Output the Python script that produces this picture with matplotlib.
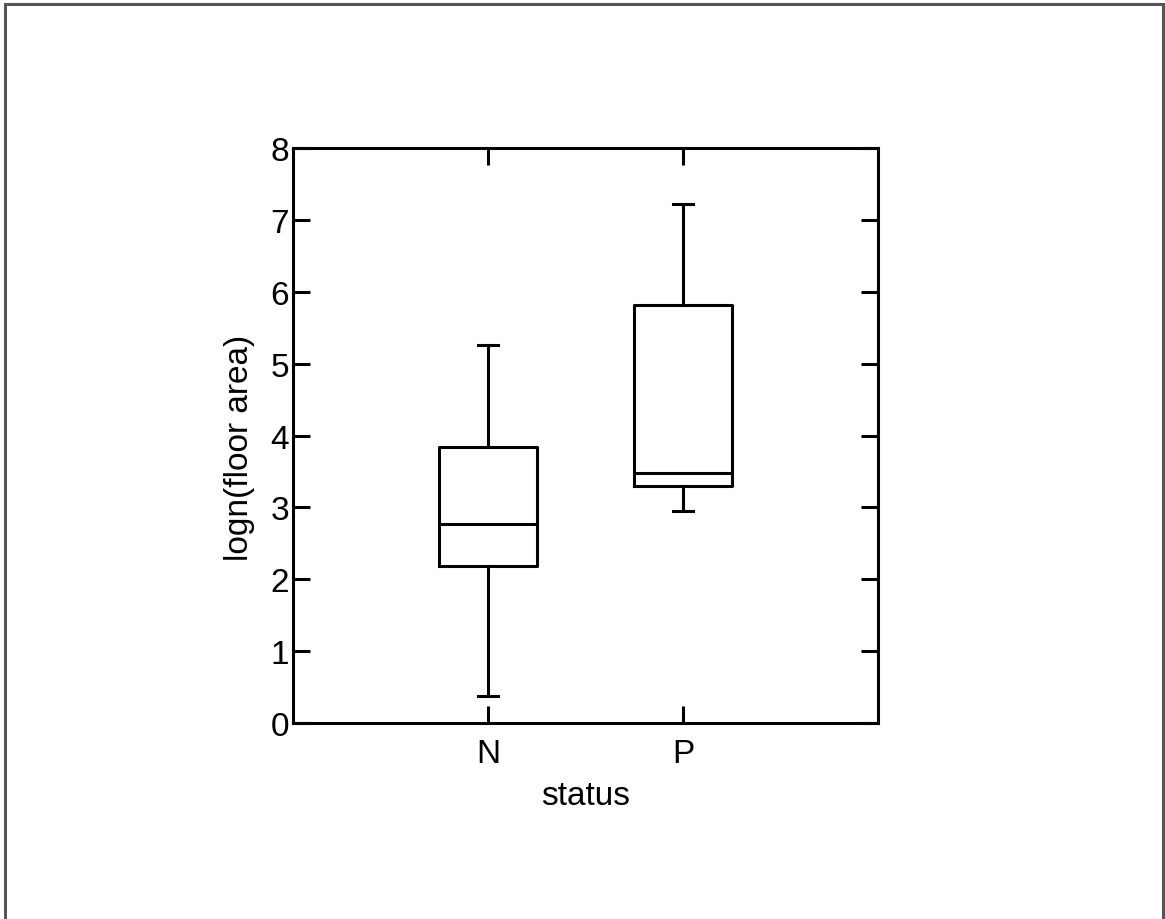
import matplotlib
matplotlib.use("Agg")
import matplotlib.pyplot as plt
from matplotlib.patches import Rectangle

plt.rcParams['font.family'] = ['Liberation Sans', 'DejaVu Sans']

categories = ["N", "P"]
whisker_low = [0.38, 2.95]
q1 = [2.19, 3.30]
median = [2.77, 3.48]
q3 = [3.84, 5.81]
whisker_high = [5.26, 7.22]
y_ticks = [0, 1, 2, 3, 4, 5, 6, 7, 8]

fig = plt.figure(figsize=(11.65, 9.2), dpi=100)
ax = fig.add_axes([0.2515, 0.2130, 0.5021, 0.6250])

stats = []
for i, c in enumerate(categories):
    stats.append(dict(label=c, whislo=whisker_low[i], q1=q1[i], med=median[i],
                      q3=q3[i], whishi=whisker_high[i], fliers=[]))

lw = 2.2
ax.bxp(stats, positions=[1, 2], widths=0.5, capwidths=0.1, showfliers=False,
       boxprops=dict(color='black', linewidth=lw),
       medianprops=dict(color='black', linewidth=lw),
       whiskerprops=dict(color='black', linewidth=lw),
       capprops=dict(color='black', linewidth=lw))

ax.set_xlim(0, 3)
ax.set_ylim(0, 8)
ax.set_yticks(y_ticks)
ax.set_yticklabels([str(t) for t in y_ticks])
ax.set_xticks([1, 2])
ax.set_xticklabels(categories)

for s in ax.spines.values():
    s.set_linewidth(lw)
ax.tick_params(axis='both', direction='in', length=12, width=lw,
               top=True, right=True, labelsize=24)
ax.tick_params(axis='y', pad=3)
ax.tick_params(axis='x', pad=11)

ax.set_xlabel("status", fontsize=24, labelpad=8)
ax.set_ylabel("logn(floor area)", fontsize=24, labelpad=11)
ax.yaxis.label.set_y(0.48)

fig.patches.append(Rectangle((5 / 1165, -0.05), 1158 / 1165, 1.05 - 5 / 920,
                             transform=fig.transFigure, fill=False,
                             edgecolor='#555555', linewidth=2.2))

fig.savefig("out.png", dpi=100)
